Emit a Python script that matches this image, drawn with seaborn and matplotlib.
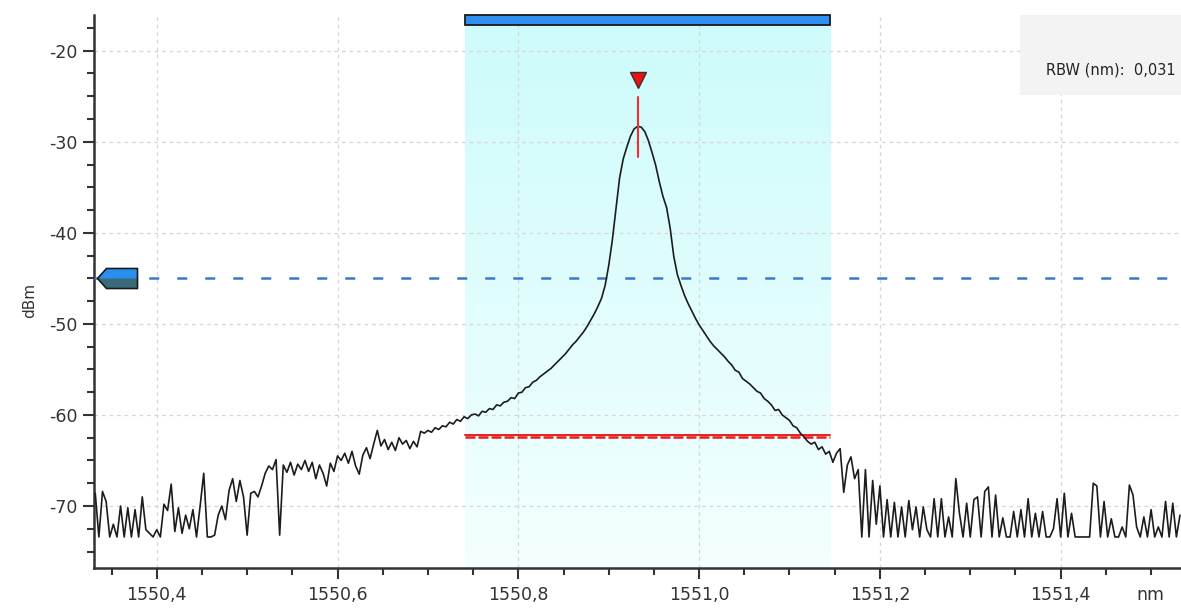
import numpy as np
import pandas as pd
import matplotlib
matplotlib.use("Agg")
import matplotlib.pyplot as plt
import seaborn as sns
from matplotlib.colors import LinearSegmentedColormap
from matplotlib.patches import Rectangle
from matplotlib.path import Path
from matplotlib.ticker import MultipleLocator, FuncFormatter
from matplotlib.transforms import blended_transform_factory, ScaledTranslation

# ---- OSA trace: sampled every STEP_NM starting at START_NM (dBm) ----
START_NM = 1550.332
STEP_NM = 0.004

noise_left = [
    -68.6, -73.4, -68.4, -69.5, -73.4, -72.0, -73.4, -70.0, -73.4, -70.2,
    -73.4, -70.4, -73.4, -69.0, -72.6, -73.0, -73.4, -72.6, -73.4, -69.8,
    -70.5, -67.6, -72.8, -70.2, -73.0, -71.0, -72.5, -70.4, -73.4, -70.0,
    -66.4, -73.4, -73.4, -73.2, -71.0, -70.0, -71.5, -68.3, -67.0, -69.5,
    -67.2, -69.0, -73.2, -68.6, -68.4, -69.0, -67.8, -66.4, -65.6, -66.0,
    -64.9, -73.2, -65.5, -66.3, -65.2, -66.6, -65.4, -66.0, -65.0, -66.2,
    -65.2, -67.0, -65.5, -66.4, -67.8, -65.3, -66.2, -64.5, -65.0, -64.2,
    -65.3, -64.0, -65.6, -66.5, -64.4, -63.6, -64.8, -63.2, -61.7, -63.4,
    -62.7, -63.8,
]
wing_left = [
    -63.0, -63.9, -62.5, -63.2, -62.8, -63.7, -62.9, -63.5, -61.8, -62.0,
    -61.7, -61.9, -61.4, -61.6, -61.2, -61.3, -60.8, -61.0, -60.5, -60.7,
    -60.2, -60.4, -60.0, -59.9, -60.1, -59.6, -59.7, -59.3, -59.4, -58.9,
    -59.0, -58.6, -58.5, -58.1, -58.2, -57.6, -57.5, -57.0, -56.9, -56.4,
    -56.2, -55.8, -55.5, -55.2, -54.9, -54.5, -54.1, -53.7, -53.3, -52.8,
    -52.3, -51.9, -51.4, -50.9, -50.3, -49.6, -48.9, -48.1, -47.2, -45.8,
    -43.6, -40.8, -37.4, -34.0,
]
peak_top = [
    -31.9, -30.6, -29.4, -28.6, -28.3, -28.4, -28.9, -29.9, -31.2, -32.6,
    -34.4, -36.0, -37.2, -39.5, -42.6,
]
wing_right = [
    -44.6, -45.8, -46.9, -47.8, -48.6, -49.4, -50.1, -50.7, -51.3, -51.9,
    -52.4, -52.8, -53.2, -53.6, -54.1, -54.5, -55.1, -55.3, -56.0, -56.3,
    -56.6, -57.0, -57.4, -57.6, -58.2, -58.5, -58.9, -59.5, -59.4, -60.0,
    -60.3, -60.6, -61.2, -61.4, -62.0, -62.4, -62.9, -63.2, -63.0, -63.8,
    -63.5, -64.3, -64.0, -65.2, -64.2, -63.7, -68.5, -65.5, -64.6, -67.0,
    -66.0,
]
noise_right = [
    -73.4, -66.0, -73.4, -67.2, -72.0, -67.8, -73.4, -69.3, -73.4, -69.6,
    -73.4, -70.1, -73.4, -69.4, -72.6, -70.1, -73.4, -70.1, -72.6, -73.4,
    -69.2, -73.4, -69.2, -73.4, -71.2, -73.4, -67.0, -70.8, -73.4, -69.7,
    -73.4, -69.3, -69.0, -73.4, -68.4, -67.9, -73.4, -68.8, -73.4, -71.3,
    -73.4, -73.4, -70.6, -73.4, -70.4, -73.4, -69.2, -73.4, -70.8, -73.4,
    -70.6, -73.4, -73.4, -72.5, -69.2, -73.4, -68.6, -73.4, -70.8, -73.4,
    -73.4, -73.4, -73.4, -73.4, -67.5, -67.8, -73.4, -69.5, -73.4, -71.4,
    -73.4, -73.4, -72.3, -73.4, -67.7, -68.8, -72.3, -73.4, -71.2, -73.4,
    -70.4, -73.4, -72.3, -73.4, -69.5, -73.4, -69.7, -73.4, -71.0,
]

# ---- analysis settings shown on the screen ----
analysis_band = [1550.741, 1551.145]   # nm
threshold_dbm = -45.0
ref_line_dbm = -62.3
rbw_label = "RBW (nm):  0,031"

X_MIN, X_MAX = 1550.3306, 1551.5331
Y_MIN, Y_MAX = -76.84, -16.08
x_major, x_minor = 0.2, 0.05
y_major, y_minor = 10, 2.5

power = np.array(noise_left + wing_left + peak_top + wing_right + noise_right)
wavelength = START_NM + STEP_NM * np.arange(power.size)
df = pd.DataFrame({"wavelength": wavelength, "power": power})

sns.set_style("white")
plt.rcParams["font.family"] = ["DejaVu Sans"]

W, H = 1181, 608
fig = plt.figure(figsize=(W / 100, H / 100), dpi=100)
ax = fig.add_axes([94 / W, 1 - 568.3 / H, 1 - 94 / W, 553.3 / H])

# shaded analysis band with a vertical cyan gradient
band_cmap = LinearSegmentedColormap.from_list("band", ["#f4ffff", "#cdfbfb"])
ax.imshow(np.linspace(0, 1, 256).reshape(-1, 1), cmap=band_cmap,
          extent=[analysis_band[0], analysis_band[1], Y_MIN, Y_MAX],
          origin="lower", aspect="auto", zorder=0, interpolation="bilinear")

# blue band indicator across the top
ax.add_patch(Rectangle((analysis_band[0], Y_MAX - 1.05), analysis_band[1] - analysis_band[0], 1.1,
                       facecolor="#2f8ff0", edgecolor="#1a1a1a", lw=1.3,
                       clip_on=False, zorder=1))

# threshold (dashed blue) and reference level (red)
ax.plot([X_MIN, X_MAX], [threshold_dbm] * 2, color="#3b78c8", lw=1.8,
        ls=(0.5, (4.0, 7.2)), zorder=3)
ax.plot(analysis_band, [ref_line_dbm + 0.15] * 2, color="#ee1c1c", lw=1.4, zorder=3)
ax.plot(analysis_band, [ref_line_dbm - 0.15] * 2, color="#ee1c1c", lw=1.8,
        ls=(0, (4.0, 1.2)), zorder=3)

# spectrum trace
sns.lineplot(data=df, x="wavelength", y="power", ax=ax, color="#1c1c1c",
             lw=1.2, estimator=None, zorder=5)

# peak marker
ipk = int(np.argmax(power))
pk_x, pk_y = wavelength[ipk], power[ipk]
ax.plot([pk_x, pk_x], [pk_y + 3.2, pk_y - 3.4], color="#f03030", lw=1.5, zorder=6)
ax.plot([pk_x], [pk_y + 5.1], marker="v", ms=12, mfc="#f01010", mec="#333333",
        mew=1.0, ls="none", zorder=7, clip_on=False)

# threshold handle at the left edge of the plot
body = Path([(-1, 0), (-0.55, 0.5), (1, 0.5), (1, -0.5), (-0.55, -0.5), (-1, 0)])
top_half = Path([(-1, 0), (-0.55, 0.5), (1, 0.5), (1, 0), (-1, 0)])
handle_tr = blended_transform_factory(ax.transAxes, ax.transData) + \
    ScaledTranslation(0.23, 0, fig.dpi_scale_trans)
for path, fc, ec, mew in [(body, "#3b6a7a", "none", 0), (top_half, "#2b8ff0", "none", 0),
                          (body, "none", "#1a1a1a", 1.2)]:
    ax.plot([0], [threshold_dbm], marker=path, ms=28.8, mfc=fc, mec=ec, mew=mew,
            ls="none", transform=handle_tr, clip_on=False, zorder=8)

# axes, ticks and grid
ax.set_xlim(X_MIN, X_MAX)
ax.set_ylim(Y_MIN, Y_MAX)
ax.xaxis.set_major_locator(MultipleLocator(x_major))
ax.xaxis.set_minor_locator(MultipleLocator(x_minor))
ax.yaxis.set_major_locator(MultipleLocator(y_major))
ax.yaxis.set_minor_locator(MultipleLocator(y_minor))
ax.xaxis.set_major_formatter(FuncFormatter(lambda v, p: f"{v:.1f}".replace(".", ",")))
ax.yaxis.set_major_formatter(FuncFormatter(lambda v, p: f"{v:.0f}"))
ax.tick_params(which="major", length=8, width=1.5, color="#333333",
               labelsize=12.5, labelcolor="#333333", pad=4)
ax.tick_params(which="minor", length=5, width=1.5, color="#333333")
ax.tick_params(axis="x", which="major", pad=5)
ax.tick_params(bottom=True, left=True, which="both")
ax.grid(True, which="major", color="#d6d6d6", ls=(0, (3, 3)), lw=0.9)
for side in ("top", "right"):
    ax.spines[side].set_visible(False)
for side in ("left", "bottom"):
    ax.spines[side].set_color("#333333")
    ax.spines[side].set_linewidth(1.8)
ax.set_xlabel("")
ax.set_ylabel("")

fig.text(30 / W, 1 - 300 / H, "dBm", rotation=90, ha="center", va="center",
         fontsize=11, color="#333333")
fig.text(1150 / W, 1 - 595 / H, "nm", ha="center", va="center",
         fontsize=12.5, color="#333333")

# resolution bandwidth readout
fig.patches.append(Rectangle((1020 / W, 1 - 95 / H), 161 / W, 80 / H,
                             transform=fig.transFigure, facecolor="#f3f3f3",
                             edgecolor="none", alpha=0.92, zorder=10))
fig.text(1176 / W, 1 - 70 / H, rbw_label, ha="right", va="center",
         fontsize=10.5, color="#222222", zorder=11)

fig.savefig("out.png", dpi=100)
